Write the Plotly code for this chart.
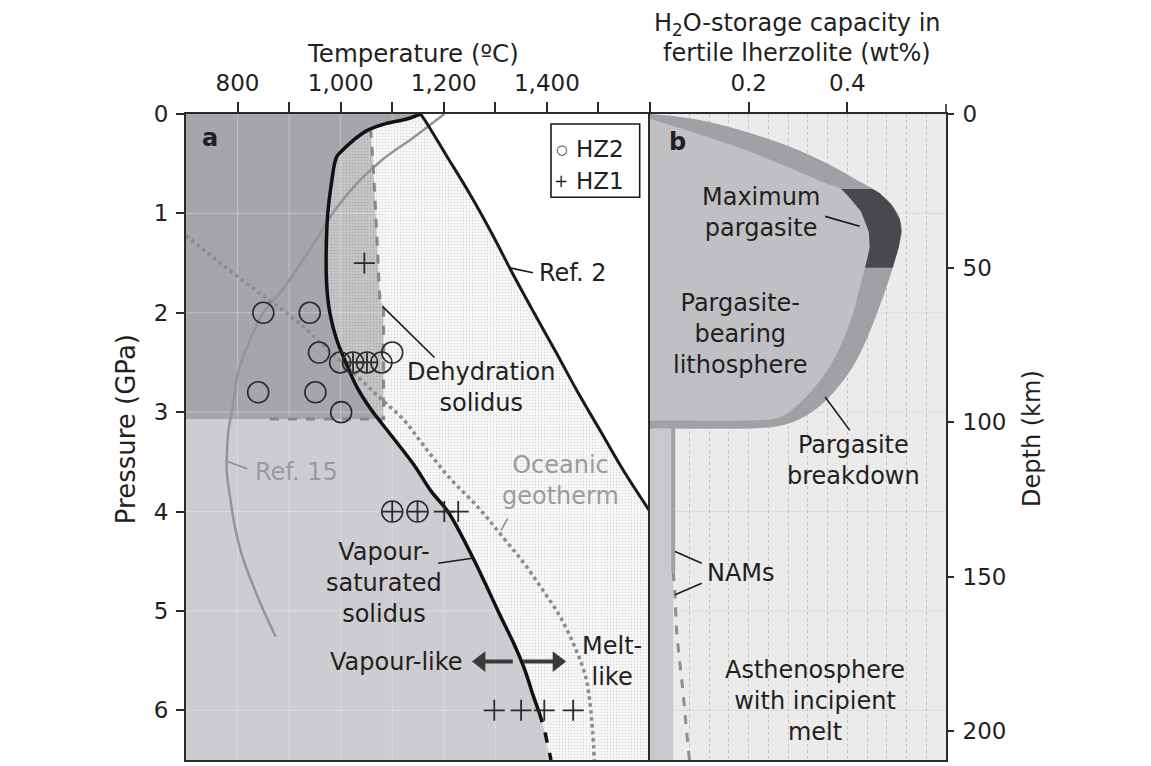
import numpy as np
import plotly.graph_objects as go

FONT = "DejaVu Sans, Liberation Sans, Arial, sans-serif"
TXT = "#231f20"

# ---------------- axes ----------------
T_RANGE = [700, 1600]
P_RANGE = [6.5, 0]
WT_RANGE = [0, 0.6]
DEPTH_RANGE = [209.5, 0]

T_TICKS = [800, 1000, 1200, 1400]
T_TICKTEXT = ["800", "1,000", "1,200", "1,400"]
T_MINOR = [900, 1100, 1300, 1500, 1600]
P_TICKS = [0, 1, 2, 3, 4, 5, 6]
WT_TICKS = [0.2, 0.4]
WT_TICKTEXT = ["0.2", "0.4"]
DEPTH_TICKS = [0, 50, 100, 150, 200]

# ---------------- panel a data (T in degC, P in GPa) ----------------
solidus_T = [1155, 1128, 1086, 1051, 1024, 1003, 992, 982, 975, 972, 973, 979, 992, 1010,
             1030, 1058, 1093, 1142, 1176, 1208, 1256, 1281, 1308, 1336, 1357, 1374, 1385, 1395, 1408]
solidus_P = [0, 0.05, 0.1, 0.167, 0.267, 0.367, 0.433, 0.7, 1.0, 1.367, 1.733, 2.0, 2.267, 2.5,
             2.733, 2.967, 3.2, 3.53, 3.8, 4.0, 4.46, 4.73, 5.03, 5.33, 5.59, 5.86, 6.02, 6.19, 6.5]
SOLIDUS_DASH_FROM = 6.02

ref2_T = [1155, 1168, 1203, 1250, 1293, 1333, 1375, 1418, 1460, 1505, 1550, 1600]
ref2_P = [0, 0.1, 0.4, 0.8, 1.2, 1.6, 2.0, 2.4, 2.8, 3.2, 3.6, 4.0]

ref15_T = [1201, 1142, 1079, 1031, 989, 940, 892, 850, 822, 801, 791, 782, 779.5, 779, 784,
           794, 808, 829, 850, 874]
ref15_P = [0, 0.233, 0.467, 0.7, 0.967, 1.367, 1.733, 2.0, 2.3, 2.6, 2.93, 3.2, 3.4, 3.6, 3.8,
           4.13, 4.43, 4.73, 4.99, 5.26]

geotherm_T = [700, 774, 850, 919, 975, 1030, 1079, 1121, 1160, 1211, 1267, 1315, 1357, 1392,
              1426, 1454, 1475, 1485, 1492]
geotherm_P = [1.22, 1.53, 1.83, 2.1, 2.37, 2.63, 2.87, 3.07, 3.33, 3.66, 3.96, 4.26, 4.53, 4.79,
              5.06, 5.36, 5.66, 5.99, 6.5]

dehyd_T = [1058, 1062, 1067, 1071, 1076, 1083, 1083, 857]
dehyd_P = [0.15, 0.43, 0.9, 1.37, 1.87, 1.93, 3.07, 3.07]

hz2_T = [850, 940, 958, 999, 1024, 1051, 1079, 1100, 840, 951, 1001, 1100, 1149]
hz2_P = [2.0, 2.0, 2.4, 2.5, 2.5, 2.5, 2.5, 2.4, 2.8, 2.8, 3.0, 4.0, 4.0]
hz1_T = [1046, 1024, 1051, 1100, 1149, 1201, 1228, 1298, 1350, 1395, 1451]
hz1_P = [1.5, 2.5, 2.5, 4.0, 4.0, 4.0, 4.0, 6.0, 6.0, 6.0, 6.0]

ARROW_P = 5.51
vapour_arrow_T = [1334, 1272]
melt_arrow_T = [1354, 1420]

# ---------------- panel b data (wt% H2O, depth km) ----------------
outer_wt = [0, 0.081, 0.182, 0.284, 0.358, 0.419, 0.466, 0.493, 0.507, 0.510, 0.503, 0.493,
            0.480, 0.463, 0.439, 0.412, 0.378, 0.345, 0.304, 0.264, 0.216]
outer_depth = [0, 1.4, 5.2, 10.6, 16.0, 21.4, 25.7, 30.0, 34.3, 38.6, 44.0, 49.4, 55.8, 63.4,
               73.1, 81.7, 89.2, 94.6, 98.9, 101.1, 101.9]
inner_wt = [0, 0.081, 0.182, 0.284, 0.358, 0.389, 0.426, 0.443, 0.446, 0.436, 0.426, 0.412,
            0.392, 0.365, 0.331, 0.297, 0.270, 0.236, 0.047]
inner_depth = [1.5, 5.6, 11.0, 17.5, 22.6, 24.4, 31.0, 37.5, 42.9, 49.9, 55.8, 64.4, 73.1, 81.7,
               89.2, 94.6, 97.9, 99.1, 99.4]
max_pargasite_depth = [24.3, 49.9]

nam_wt = [0.047, 0.047, 0.051, 0.054, 0.061, 0.068, 0.074, 0.080]
nam_depth = [101.9, 148.4, 157, 167.8, 178.6, 189.3, 200, 209.5]
NAM_SOLID_TO = 148.4

fig = go.Figure()

# ---- panel a fills ----
fig.add_trace(go.Scatter(
    x=[T_RANGE[0]] + solidus_T + [T_RANGE[0]], y=[0] + solidus_P + [P_RANGE[0]],
    fill="toself", fillcolor="#cdcdd1", line=dict(width=0), mode="lines",
    hoverinfo="skip", showlegend=False))
fig.add_trace(go.Scatter(
    x=solidus_T + [T_RANGE[1]] + ref2_T[::-1], y=solidus_P + [P_RANGE[0]] + ref2_P[::-1],
    fill="toself", fillcolor="#f8f8f8", line=dict(width=0), mode="lines",
    fillpattern=dict(shape=".", fgcolor="#a4a4a4", bgcolor="#f8f8f8", size=3, solidity=0.14),
    hoverinfo="skip", showlegend=False))
top_pts = [(t, p) for t, p in zip(solidus_T, solidus_P) if p < dehyd_P[0]]
ov_x = [T_RANGE[0]] + [t for t, _ in top_pts] + dehyd_T[:-1] + [T_RANGE[0]]
ov_y = [0] + [p for _, p in top_pts] + dehyd_P[:-1] + [dehyd_P[-1]]
fig.add_trace(go.Scatter(
    x=ov_x, y=ov_y, fill="toself", fillcolor="rgba(60,60,72,0.27)", line=dict(width=0),
    mode="lines", hoverinfo="skip", showlegend=False))

# faint grid over the fills
gx, gy = [], []
for t in sorted(T_TICKS + T_MINOR[:-1]):
    gx += [t, t, None]; gy += [0, P_RANGE[0], None]
for p in P_TICKS[1:]:
    gx += [T_RANGE[0], T_RANGE[1], None]; gy += [p, p, None]
fig.add_trace(go.Scatter(x=gx, y=gy, mode="lines", line=dict(color="rgba(255,255,255,0.3)", width=1),
                         hoverinfo="skip", showlegend=False))

# ---- panel a lines ----
fig.add_trace(go.Scatter(x=ref15_T, y=ref15_P, mode="lines", line=dict(color="#949498", width=2.5, shape="spline"),
                         showlegend=False, name="Ref. 15"))
fig.add_trace(go.Scatter(x=geotherm_T, y=geotherm_P, mode="lines",
                         line=dict(color="#8c8c90", width=3.5, dash="dot", shape="spline"),
                         showlegend=False, name="Oceanic geotherm"))
fig.add_trace(go.Scatter(x=dehyd_T, y=dehyd_P, mode="lines",
                         line=dict(color="#88888c", width=3, dash="dash"),
                         showlegend=False, name="Dehydration solidus"))
fig.add_trace(go.Scatter(x=ref2_T, y=ref2_P, mode="lines", line=dict(color="#1a1a1a", width=3, shape="spline"),
                         showlegend=False, name="Ref. 2"))
sol_solid = [(t, p) for t, p in zip(solidus_T, solidus_P) if p <= SOLIDUS_DASH_FROM]
sol_dash = [(t, p) for t, p in zip(solidus_T, solidus_P) if p >= SOLIDUS_DASH_FROM]
fig.add_trace(go.Scatter(x=[t for t, _ in sol_solid], y=[p for _, p in sol_solid], mode="lines",
                         line=dict(color="#111", width=3.5, shape="spline"), showlegend=False,
                         name="Vapour-saturated solidus"))
fig.add_trace(go.Scatter(x=[t for t, _ in sol_dash], y=[p for _, p in sol_dash], mode="lines",
                         line=dict(color="#111", width=3.5, dash="dash"), showlegend=False))

# ---- markers ----
fig.add_trace(go.Scatter(x=hz2_T, y=hz2_P, mode="markers", name="HZ2", showlegend=False,
                         marker=dict(symbol="circle-open", size=21, color="#2a2a2a", line=dict(width=1.6))))
fig.add_trace(go.Scatter(x=hz1_T, y=hz1_P, mode="markers", name="HZ1", showlegend=False,
                         marker=dict(symbol="cross-thin-open", size=15, color="#2a2a2a", line=dict(width=1.8, color="#2a2a2a"))))

# ---- vapour-like / melt-like arrows ----
for arr, sym in [(vapour_arrow_T, "triangle-left"), (melt_arrow_T, "triangle-right")]:
    fig.add_trace(go.Scatter(x=arr, y=[ARROW_P, ARROW_P], mode="lines", line=dict(color="#3a3a3a", width=4),
                             hoverinfo="skip", showlegend=False))
    fig.add_trace(go.Scatter(x=[arr[-1]], y=[ARROW_P], mode="markers", hoverinfo="skip", showlegend=False,
                             marker=dict(symbol=sym, size=18, color="#3a3a3a", line=dict(width=0))))

# ---- panel b ----
fig.add_trace(go.Scatter(
    x=[0, nam_wt[0], nam_wt[0], 0], y=[nam_depth[0], nam_depth[0], DEPTH_RANGE[0], DEPTH_RANGE[0]],
    xaxis="x2", yaxis="y2", fill="toself", fillcolor="#c9c9cd", line=dict(width=0), mode="lines",
    hoverinfo="skip", showlegend=False))
fig.add_trace(go.Scatter(
    x=outer_wt + [0], y=outer_depth + [outer_depth[-1]], xaxis="x2", yaxis="y2",
    fill="toself", fillcolor="#a0a0a5", line=dict(width=0, shape="spline"), mode="lines",
    hoverinfo="skip", showlegend=False, name="Pargasite breakdown"))
fig.add_trace(go.Scatter(
    x=inner_wt + [0], y=inner_depth + [inner_depth[-1]], xaxis="x2", yaxis="y2",
    fill="toself", fillcolor="#c0c0c4", line=dict(width=0, shape="spline"), mode="lines",
    hoverinfo="skip", showlegend=False, name="Pargasite-bearing lithosphere"))
dg = np.linspace(max_pargasite_depth[0], max_pargasite_depth[1], 40)
ox = np.interp(dg, outer_depth, outer_wt)
ix = np.interp(dg, inner_depth, inner_wt)
fig.add_trace(go.Scatter(
    x=list(ix) + list(ox[::-1]), y=list(dg) + list(dg[::-1]), xaxis="x2", yaxis="y2",
    fill="toself", fillcolor="#48484d", line=dict(width=0), mode="lines",
    hoverinfo="skip", showlegend=False, name="Maximum pargasite"))
ns = [(w, d) for w, d in zip(nam_wt, nam_depth) if d <= NAM_SOLID_TO]
nd = [(w, d) for w, d in zip(nam_wt, nam_depth) if d >= NAM_SOLID_TO]
fig.add_trace(go.Scatter(x=[w for w, _ in ns], y=[d for _, d in ns], xaxis="x2", yaxis="y2", mode="lines",
                         line=dict(color="#a0a0a5", width=4), showlegend=False, name="NAMs"))
fig.add_trace(go.Scatter(x=[w for w, _ in nd], y=[d for _, d in nd], xaxis="x2", yaxis="y2", mode="lines",
                         line=dict(color="#8e8e93", width=3, dash="dash", shape="spline"), showlegend=False))

# ---------------- layout ----------------
AX = dict(showline=True, linecolor="#2b2b2b", linewidth=2, mirror=True, ticks="outside",
          tickcolor="#2b2b2b", tickwidth=1.6, zeroline=False,
          tickfont=dict(family=FONT, size=23, color=TXT))
XD = 464 / 760
fig.update_layout(
    width=1151, height=766, margin=dict(l=178, r=213, t=106, b=12),
    paper_bgcolor="white", plot_bgcolor="white",
    xaxis=dict(AX, domain=[0, XD], range=T_RANGE, side="top", tickvals=T_TICKS, ticktext=T_TICKTEXT,
               ticklen=10, showgrid=False, anchor="y", ticklabelstandoff=2,
               minor=dict(tickvals=T_MINOR, ticks="outside", ticklen=10, tickcolor="#2b2b2b",
                          tickwidth=1.6, showgrid=False)),
    yaxis=dict(AX, range=P_RANGE, tickvals=P_TICKS, ticklen=8, showgrid=False, anchor="x",
               ticklabelstandoff=3),
    xaxis2=dict(AX, domain=[XD, 1], range=WT_RANGE, side="top", tickvals=WT_TICKS, ticktext=WT_TICKTEXT,
                ticklen=10, anchor="y2", showgrid=True, gridcolor="#c2c2c2", griddash="dot", gridwidth=1.2,
                ticklabelstandoff=2,
                minor=dict(tick0=0, dtick=0.04, showgrid=True, gridcolor="#c2c2c2", griddash="dot",
                           gridwidth=1.2, ticklen=0)),
    yaxis2=dict(AX, range=DEPTH_RANGE, tickvals=DEPTH_TICKS, ticklen=6, side="right", anchor="x2",
                showgrid=False, ticklabelstandoff=4),
)

shapes = [
    dict(type="rect", xref="x2 domain", yref="y2 domain", x0=0, x1=1, y0=0, y1=1,
         fillcolor="#ebebeb", line=dict(width=0), layer="below"),
    # end tick of the wt% axis (0.6)
    dict(type="line", xref="x2 domain", yref="y2 domain", x0=1, x1=1, y0=1, y1=1 + 10 / 648,
         line=dict(color="#2b2b2b", width=1.6)),
]
for p in P_TICKS[1:]:
    shapes.append(dict(type="line", xref="x2 domain", yref="y", x0=0, x1=1, y0=p, y1=p,
                       line=dict(color="#dcdcdc", width=1), layer="below"))
# legend box
shapes.append(dict(type="rect", xref="x", yref="y", x0=1408, x1=1580, y0=0.1, y1=0.837,
                   line=dict(color="#1a1a1a", width=1.6), fillcolor="white", layer="above"))
# leader lines
leaders_a = [((1328, 1.548), (1373, 1.598), "#1a1a1a"), ((1081, 1.936), (1182, 2.45), "#1a1a1a"),
             ((776, 3.49), (819, 3.57), "#909094"), ((1311, 4.19), (1324, 4.07), "#909094"),
             ((1189, 4.52), (1255, 4.47), "#1a1a1a")]
for (x0, y0), (x1, y1), col in leaders_a:
    shapes.append(dict(type="line", xref="x", yref="y", x0=x0, y0=y0, x1=x1, y1=y1,
                       line=dict(color=col, width=1.6), layer="above"))
leaders_b = [((0.355, 33.2), (0.425, 36.4)), ((0.355, 91.8), (0.405, 102.6)),
             ((0.0507, 141.9), (0.1048, 145.7)), ((0.0507, 155.9), (0.1048, 152.2))]
for (x0, y0), (x1, y1) in leaders_b:
    shapes.append(dict(type="line", xref="x2", yref="y2", x0=x0, y0=y0, x1=x1, y1=y1,
                       line=dict(color="#1a1a1a", width=1.6), layer="above"))
fig.update_layout(shapes=shapes)

def ann(text, x, y, xref="x", yref="y", size=24, color=TXT, xanchor="center", bold=False, **kw):
    return dict(text=f"<b>{text}</b>" if bold else text, x=x, y=y, xref=xref, yref=yref,
                showarrow=False, xanchor=xanchor, yanchor="middle",
                align=xanchor if xanchor != "center" else "center",
                font=dict(family=FONT, size=size, color=color), **kw)

G = "#9a9a9e"
anns = [
    ann("Temperature (ºC)", 0.2987, 1.0941, "paper", "paper", size=24.5),
    ann("H<sub>2</sub>O-storage capacity in", 0.8046, 1.1390, "paper", "paper", size=24),
    ann("fertile lherzolite (wt%)", 0.8046, 1.0941, "paper", "paper", size=24),
    ann("Pressure (GPa)", -0.079, 0.512, "paper", "paper", size=26, textangle=-90),
    ann("Depth (km)", 1.1132, 0.497, "paper", "paper", size=24, textangle=-90),
    ann("a", 746, 0.24, size=24, bold=True),
    ann("Ref. 2", 1380, 1.6, xanchor="left"),
    ann("Dehydration<br>solidus", 1273, 2.75),
    ann("Ref. 15", 829, 3.6, color=G, xanchor="left"),
    ann("Oceanic<br>geotherm", 1426, 3.69, color=G),
    ann("Vapour-<br>saturated<br>solidus", 1085, 4.72),
    ann("Vapour-like", 1242, ARROW_P, xanchor="right"),
    ann("Melt-<br>like", 1527, ARROW_P),
    ann("○", 1428, 0.36, size=13),
    ann("HZ2", 1452, 0.35, xanchor="left", size=23),
    ann("+", 1428, 0.67, size=17),
    ann("HZ1", 1452, 0.67, xanchor="left", size=23),
    ann("b", 0.055, 9.0, "x2", "y2", size=24, bold=True),
    ann("Maximum<br>pargasite", 0.226, 32, "x2", "y2"),
    ann("Pargasite-<br>bearing<br>lithosphere", 0.182, 71.4, "x2", "y2"),
    ann("Pargasite<br>breakdown", 0.412, 112.3, "x2", "y2"),
    ann("NAMs", 0.112, 148.9, "x2", "y2", xanchor="left"),
    ann("Asthenosphere<br>with incipient<br>melt", 0.334, 190.3, "x2", "y2"),
]
fig.update_layout(annotations=anns)

fig.write_html("out.html")
